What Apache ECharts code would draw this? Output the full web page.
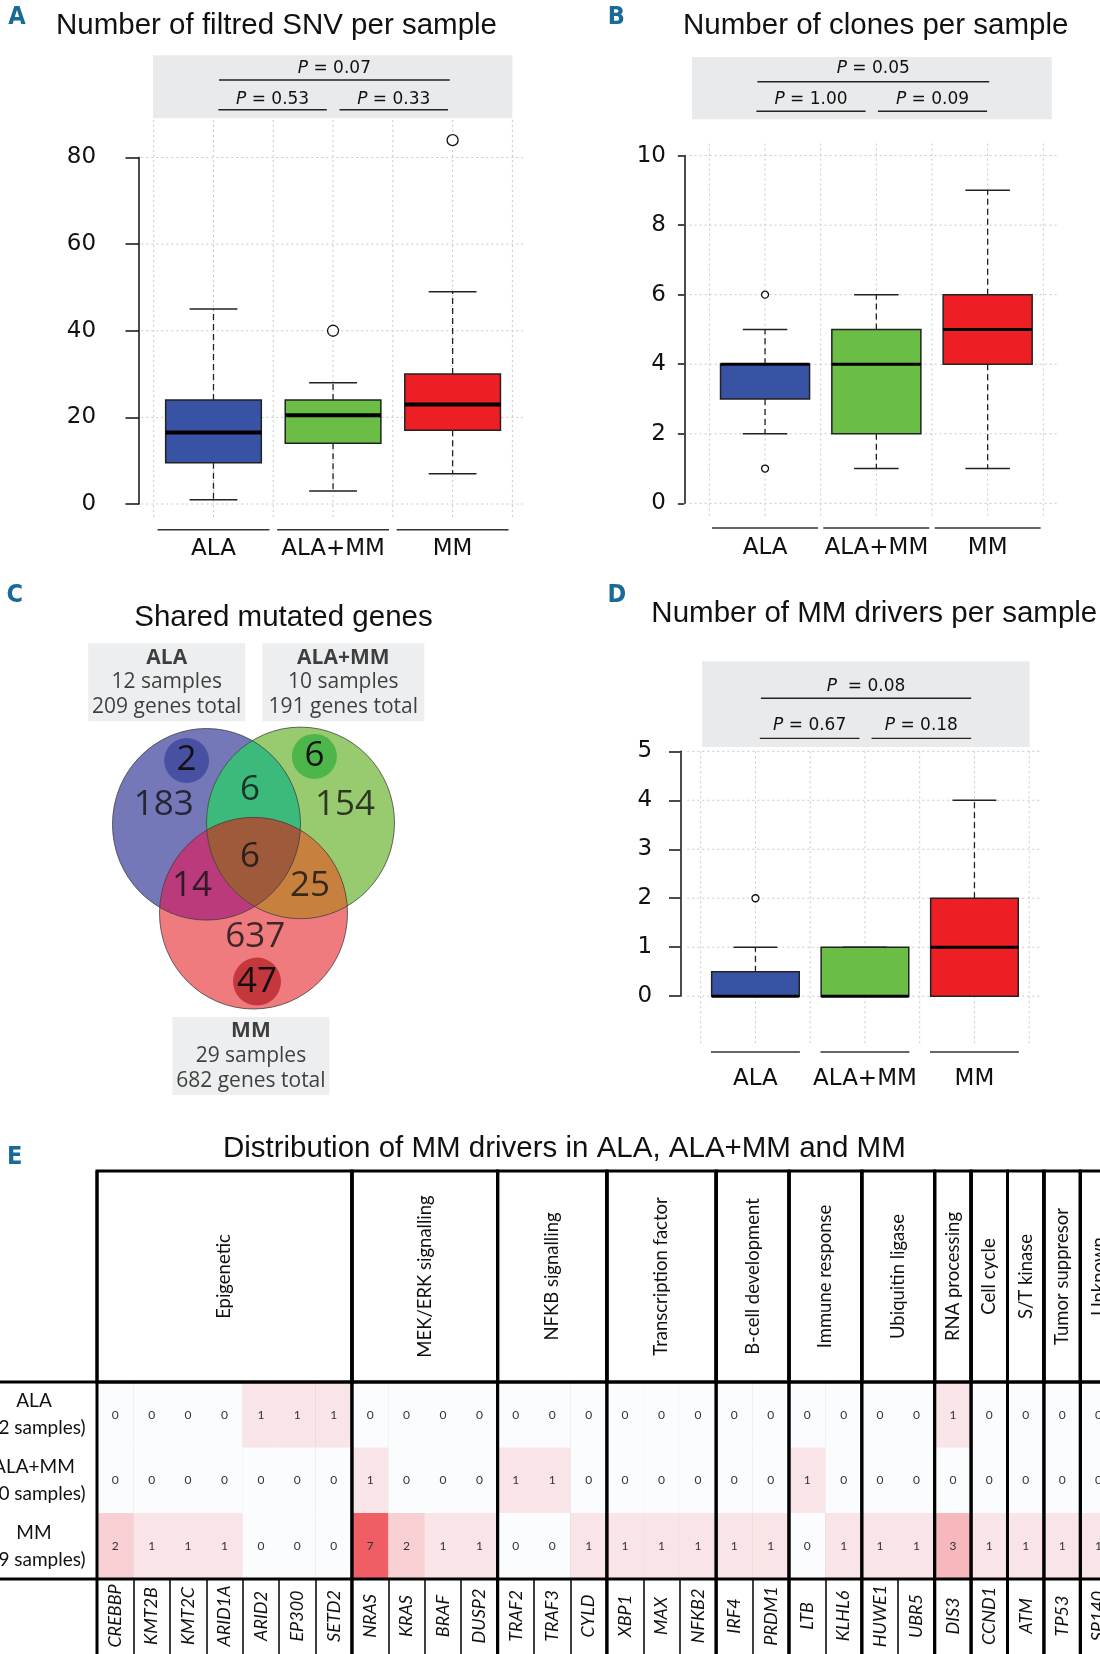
<!DOCTYPE html>
<html>
<head>
<meta charset="utf-8">
<script src="https://cdn.jsdelivr.net/npm/echarts@6/dist/echarts.min.js"></script>
<style>
  html, body { margin: 0; padding: 0; background: #fff; }
  #fig { width: 1100px; height: 1654px; }
</style>
</head>
<body>
<div id="fig"></div>
<script>
// ---------- data ----------
const groups = ['ALA', 'ALA+MM', 'MM'];
const sampleCounts = [12, 10, 29];

// boxplot stats: [lower whisker, Q1, median, Q3, upper whisker]
const snvStats = [[1, 9.5, 16.5, 24, 45], [3, 14, 20.5, 24, 28], [7, 17, 23, 30, 49]];
const snvOutliers = [[2, 40], [3, 84]];
const snvP = ['0.07', '0.53', '0.33'];   // all, ALA vs ALA+MM, ALA+MM vs MM

const cloneStats = [[2, 3, 4, 4, 5], [1, 2, 4, 5, 6], [1, 4, 5, 6, 9]];
const cloneOutliers = [[1, 6], [1, 1]];
const cloneP = ['0.05', '1.00', '0.09'];

const driverStats = [[0, 0, 0, 0.5, 1], [0, 0, 0, 1, 1], [0, 0, 1, 2, 4]];
const driverOutliers = [[1, 2]];
const driverP = ['0.08', '0.67', '0.18'];

// venn
const vennGenesTotal = [209, 191, 682];
const vennUnique = [183, 154, 637];
const vennPairs = [6, 14, 25];        // ALA&ALA+MM, ALA&MM, ALA+MM&MM
const vennAll = 6;
const vennDriverUnique = [2, 6, 47];

// heatmap table
const geneGroups = ['Epigenetic', 'MEK/ERK signalling', 'NFKB signalling', 'Transcription factor',
  'B-cell development', 'Immune response', 'Ubiquitin ligase', 'RNA processing', 'Cell cycle',
  'S/T kinase', 'Tumor suppresor', 'Unknown'];
const groupSizes = [7, 4, 3, 3, 2, 2, 2, 1, 1, 1, 1, 1];
const genes = ['CREBBP', 'KMT2B', 'KMT2C', 'ARID1A', 'ARID2', 'EP300', 'SETD2',
  'NRAS', 'KRAS', 'BRAF', 'DUSP2', 'TRAF2', 'TRAF3', 'CYLD', 'XBP1', 'MAX', 'NFKB2',
  'IRF4', 'PRDM1', 'LTB', 'KLHL6', 'HUWE1', 'UBR5', 'DIS3', 'CCND1', 'ATM', 'TP53', 'SP140'];
const alaCounts   = [0, 0, 0, 0, 1, 1, 1, 0, 0, 0, 0, 0, 0, 0, 0, 0, 0, 0, 0, 0, 0, 0, 0, 1, 0, 0, 0, 0];
const alaMmCounts = [0, 0, 0, 0, 0, 0, 0, 1, 0, 0, 0, 1, 1, 0, 0, 0, 0, 0, 0, 1, 0, 0, 0, 0, 0, 0, 0, 0];
const mmCounts    = [2, 1, 1, 1, 0, 0, 0, 7, 2, 1, 1, 0, 0, 1, 1, 1, 1, 1, 1, 0, 1, 1, 1, 3, 1, 1, 1, 1];

// ---------- layout / style ----------
const BOX_COLORS = ['#3953a4', '#6abd45', '#ed1f24'];
const DOT = {stroke: '#c8c8c8', lineWidth: 1, lineDash: [2, 3]};
const AX_FONT = '"DejaVu Sans"';
const T = {left: 97, top: 1171, headH: 211, rowH: 65.67, labH: 85, cellW: 36.42};
const VENN = {
  cx: [206.5, 300.5, 253.5], cy: [254.3, 252.9, 343.2], rx: 94, ry: 95.8,
  colors: ['#7478b8', '#98cb6f', '#ef7b7e', '#3cba7c', '#bb3a7c', '#c8803f', '#9f5a3b'],
  uniquePos: [[163.7, 234.7], [345, 234.7], [255.3, 366.7]],
  pairPos: [[250, 220.4], [191.9, 316.3], [309.9, 316.3]],
  allPos: [250, 287.4],
  drvPos: [[186.6, 190.5], [314.4, 186.4], [257, 411.6]],
  drvColors: ['#4851a1', '#4db64a', '#c4373c'],
  drvSize: [45, 45, 48],
  boxPos: [[166.7, 112.3], [343.3, 112.3], [250.9, 486]],
  boxW: [151, 156, 151]
};

const panels = [
  {grid: 0, stats: snvStats, out: snvOutliers, p: snvP, ymax: 80, step: 20, medW: 4, outSize: 11,
   offset: 14.8, tick: 13.4, margin: 42.8, sep: ' ',
   vTop: -37.5, vBot: 16, hL: 12.4, hR: 10.6, uw: 0.468, under: 25.8, lab: 45, bL: -0.7, bR: 0, bT: -102.2, bB: -39.3,
   lines: [[1.046, 2.976, -77.5, -89], [1.041, 1.948, -47.7, -57.5], [2.054, 2.961, -47.7, -57.5]]},
  {grid: 1, stats: cloneStats, out: cloneOutliers, p: cloneP, ymax: 10, step: 2, medW: 3, outSize: 7,
   offset: 25.1, tick: 6.4, margin: 18.4, sep: ' ',
   vTop: -12, vBot: 13, hL: 19.8, hR: 13.7, uw: 0.476, under: 24.7, lab: 45, bL: -17.4, bR: 8.5, bT: -98.6, bB: -36.3,
   lines: [[0.931, 3.014, -73.8, -87.2], [0.922, 1.903, -44.3, -55.6], [2.014, 2.995, -44.3, -55.6]]},
  {grid: 3, stats: driverStats, out: driverOutliers, p: driverP, ymax: 5, step: 1, medW: 3, outSize: 7,
   offset: 20.4, tick: 11.3, margin: 28.2, sep: '  ',
   vTop: 0, vBot: 50, hL: 13.4, hR: 11.3, uw: 0.406, under: 55.8, lab: 83, bL: 1.4, bR: 0.4, bT: -90.1, bB: -4.4,
   lines: [[1.05, 2.97, -53.1, -64.6], [1.04, 1.95, -12.9, -25.5], [2.06, 2.97, -12.9, -25.5]]}
];

const grids = [
  {left: 153.7, top: 157.5, width: 358.7, height: 346.5},
  {left: 709.4, top: 155.6, width: 333.9, height: 347.7},
  {left: 0, top: 570, width: 550, height: 530},
  {left: 700.7, top: 751.3, width: 328.5, height: 244.9},
  {left: T.left, top: T.top, width: T.cellW * genes.length, height: T.headH},
  {left: T.left, top: T.top + T.headH, width: T.cellW * genes.length, height: T.rowH * 3}
].map(g => Object.assign({containLabel: false, outerBoundsMode: 'none'}, g));

// ---------- render helpers ----------
function frameRender(cfg) {
  return function (params, api) {
    const X = v => api.coord([v, 0])[0];
    const Y = v => api.coord([1, v])[1];
    const yTop = Y(cfg.ymax), y0 = Y(0);
    const xL = X(0.5), xR = X(3.5);
    const ch = [];
    for (let k = 0; k <= 6; k++) {
      const x = X(0.5 + k * 0.5);
      ch.push({type: 'line', shape: {x1: x, y1: yTop + cfg.vTop, x2: x, y2: y0 + cfg.vBot}, style: DOT});
    }
    for (let t = 0; t <= cfg.ymax; t += cfg.step) {
      const y = Y(t);
      ch.push({type: 'line', shape: {x1: xL - cfg.hL, y1: y, x2: xR + cfg.hR, y2: y}, style: DOT});
    }
    groups.forEach((g, i) => {
      ch.push({type: 'line', shape: {x1: X(i + 1 - cfg.uw), y1: y0 + cfg.under, x2: X(i + 1 + cfg.uw), y2: y0 + cfg.under},
        style: {stroke: '#333', lineWidth: 1.6}});
      ch.push({type: 'text', x: X(i + 1), y: y0 + cfg.lab,
        style: {text: g, font: '23px ' + AX_FONT, fill: '#111', align: 'center', verticalAlign: 'middle'}});
    });
    ch.push({type: 'rect', shape: {x: xL + cfg.bL, y: yTop + cfg.bT, width: (xR + cfg.bR) - (xL + cfg.bL), height: cfg.bB - cfg.bT},
      style: {fill: '#e9eaeb'}});
    cfg.lines.forEach((ln, j) => {
      const [a, b, ly, ty] = ln;
      const sep = j === 0 ? cfg.sep : ' ';
      ch.push({type: 'line', shape: {x1: X(a), y1: yTop + ly, x2: X(b), y2: yTop + ly}, style: {stroke: '#222', lineWidth: 1.4}});
      ch.push({type: 'text', x: (X(a) + X(b)) / 2, y: yTop + ty,
        style: {text: '{i|P}' + sep + '= ' + cfg.p[j], font: '17px ' + AX_FONT, fill: '#111', align: 'center', verticalAlign: 'middle',
          rich: {i: {fontStyle: 'italic', fontSize: 17, fontFamily: 'DejaVu Sans', fill: '#111'}}}});
    });
    return {type: 'group', children: ch};
  };
}

function boxRender(cfg) {
  return function (params, api) {
    const x = api.value(0);
    const lo = api.value(1), q1 = api.value(2), med = api.value(3), q3 = api.value(4), hi = api.value(5);
    const cw = api.size([1, 0])[0];
    const cx = api.coord([x, 0])[0];
    const Y = v => api.coord([x, v])[1];
    const bw = cw * 0.4, capw = cw * 0.2;
    const dash = {stroke: '#222', lineWidth: 1.3, lineDash: [6, 4]};
    const solid = {stroke: '#222', lineWidth: 1.5};
    return {type: 'group', children: [
      {type: 'line', shape: {x1: cx, y1: Y(q3), x2: cx, y2: Y(hi)}, style: dash},
      {type: 'line', shape: {x1: cx, y1: Y(q1), x2: cx, y2: Y(lo)}, style: dash},
      {type: 'line', shape: {x1: cx - capw, y1: Y(hi), x2: cx + capw, y2: Y(hi)}, style: solid},
      {type: 'line', shape: {x1: cx - capw, y1: Y(lo), x2: cx + capw, y2: Y(lo)}, style: solid},
      {type: 'rect', shape: {x: cx - bw, y: Y(q3), width: 2 * bw, height: Y(q1) - Y(q3)},
        style: {fill: BOX_COLORS[params.dataIndex], stroke: '#222', lineWidth: 1.5}},
      {type: 'line', shape: {x1: cx - bw, y1: Y(med), x2: cx + bw, y2: Y(med)}, style: {stroke: '#000', lineWidth: cfg.medW}}
    ]};
  };
}

// venn regions: intersections of ellipses (convex), traced numerically
const vennRegions = [[0], [1], [2], [0, 1], [0, 2], [1, 2], [0, 1, 2]];
function insideEll(s, x, y) {
  const dx = (x - VENN.cx[s]) / VENN.rx, dy = (y - VENN.cy[s]) / VENN.ry;
  return dx * dx + dy * dy <= 1.0005;
}
function vennRender(params, api) {
  const sets = vennRegions[params.dataIndex];
  let pts = [];
  sets.forEach(s => {
    for (let k = 0; k < 720; k++) {
      const t = k * Math.PI / 360;
      const x = VENN.cx[s] + VENN.rx * Math.cos(t), y = VENN.cy[s] + VENN.ry * Math.sin(t);
      if (sets.every(o => o === s || insideEll(o, x, y))) pts.push(api.coord([x, y]));
    }
  });
  if (sets.length > 1) {
    const mx = pts.reduce((a, p) => a + p[0], 0) / pts.length, my = pts.reduce((a, p) => a + p[1], 0) / pts.length;
    pts.sort((a, b) => Math.atan2(a[1] - my, a[0] - mx) - Math.atan2(b[1] - my, b[0] - mx));
  }
  return {type: 'polygon', shape: {points: pts}, style: {fill: VENN.colors[params.dataIndex]}};
}
function vennOutline(params, api) {
  const i = params.dataIndex;
  const c = api.coord([VENN.cx[i], VENN.cy[i]]);
  const sz = api.size([VENN.rx, VENN.ry]);
  return {type: 'ellipse', shape: {cx: c[0], cy: c[1], rx: sz[0], ry: sz[1]},
    style: {fill: 'none', stroke: 'rgba(60,60,60,0.75)', lineWidth: 1}};
}

// table header (gene groups)
const groupSpans = [];
groupSizes.reduce((s, n) => { groupSpans.push([s, s + n]); return s + n; }, 0);
function headRender(params, api) {
  const s = api.value(0), e = api.value(1);
  const p0 = api.coord([s, 1]), p1 = api.coord([e, 0]);
  const bottom = p1[1] + 3 * T.rowH + T.labH;
  const thick = {stroke: '#000', lineWidth: 3};
  return {type: 'group', children: [
    {type: 'rect', shape: {x: p0[0], y: p0[1], width: p1[0] - p0[0], height: p1[1] - p0[1]}, style: {fill: 'none', stroke: '#000', lineWidth: 3}},
    {type: 'line', shape: {x1: p0[0], y1: p0[1], x2: p0[0], y2: bottom}, style: thick},
    {type: 'line', shape: {x1: p1[0], y1: p0[1], x2: p1[0], y2: bottom}, style: thick},
    {type: 'text', x: (p0[0] + p1[0]) / 2, y: (p0[1] + p1[1]) / 2, rotation: Math.PI / 2,
      style: {text: geneGroups[params.dataIndex], font: '18.5px Lato', fill: '#111', align: 'center', verticalAlign: 'middle'}}
  ]};
}

// ---------- axes ----------
const xAxes = [], yAxes = [];
panels.forEach(cfg => {
  xAxes[cfg.grid] = {gridIndex: cfg.grid, type: 'value', min: 0.5, max: 3.5, show: false};
  yAxes[cfg.grid] = {gridIndex: cfg.grid, type: 'value', min: 0, max: cfg.ymax, interval: cfg.step, offset: cfg.offset,
    axisLine: {show: true, onZero: false, lineStyle: {color: '#111', width: 1.5}},
    axisTick: {show: true, length: cfg.tick, lineStyle: {color: '#111', width: 1.5}},
    axisLabel: {margin: cfg.margin, fontSize: 23, fontFamily: 'DejaVu Sans', color: '#111'},
    splitLine: {show: false}};
});
xAxes[2] = {gridIndex: 2, type: 'value', min: 0, max: 550, show: false};
yAxes[2] = {gridIndex: 2, type: 'value', min: 0, max: 530, inverse: true, show: false};
xAxes[4] = {gridIndex: 4, type: 'value', min: 0, max: genes.length, show: false};
yAxes[4] = {gridIndex: 4, type: 'value', min: 0, max: 1, show: false};
xAxes[5] = {gridIndex: 5, type: 'category', data: genes, position: 'bottom',
  axisLine: {show: false},
  axisTick: {show: true, interval: 0, length: T.labH, lineStyle: {color: '#000', width: 1.5}},
  axisLabel: {interval: 0, rotate: 90, align: 'center', verticalAlign: 'middle', margin: 37,
    fontStyle: 'italic', fontFamily: 'Lato', fontSize: 18, color: '#111'},
  splitLine: {show: true, interval: 0, lineStyle: {color: '#000', width: 1.5}}};
yAxes[5] = {gridIndex: 5, type: 'category', data: groups, inverse: true,
  axisLine: {show: false}, axisTick: {show: false}, splitLine: {show: false},
  axisLabel: {formatter: (v, i) => v + '\n(' + sampleCounts[i] + ' samples)', align: 'center', margin: 63,
    fontFamily: 'Lato', fontSize: 19, lineHeight: 27, color: '#111'}};

// ---------- series ----------
const series = [];
panels.forEach(cfg => {
  series.push({type: 'custom', xAxisIndex: cfg.grid, yAxisIndex: cfg.grid, silent: true, z: 1,
    data: [[2, 0]], renderItem: frameRender(cfg)});
  series.push({type: 'custom', xAxisIndex: cfg.grid, yAxisIndex: cfg.grid, silent: true, z: 3,
    data: cfg.stats.map((s, i) => [i + 1].concat(s)), renderItem: boxRender(cfg)});
  series.push({type: 'scatter', xAxisIndex: cfg.grid, yAxisIndex: cfg.grid, silent: true, z: 4, clip: false,
    symbol: 'circle', symbolSize: cfg.outSize, data: cfg.out,
    itemStyle: {color: '#fff', borderColor: '#111', borderWidth: 1.3, opacity: 1}});
});

// venn
series.push({type: 'custom', xAxisIndex: 2, yAxisIndex: 2, silent: true, z: 1,
  data: vennRegions.map((r, i) => [i, 0]), renderItem: vennRender});
series.push({type: 'custom', xAxisIndex: 2, yAxisIndex: 2, silent: true, z: 2,
  data: groups.map((g, i) => [i, 0]), renderItem: vennOutline});
const vennNumFont = {fontFamily: 'Open Sans', fontSize: 35, color: '#111'};
series.push({type: 'scatter', xAxisIndex: 2, yAxisIndex: 2, silent: true, z: 3, clip: false,
  data: vennDriverUnique.map((v, i) => ({value: VENN.drvPos[i].concat(v), symbolSize: VENN.drvSize[i],
    itemStyle: {color: VENN.drvColors[i], opacity: 1}})),
  label: Object.assign({show: true, position: 'inside', formatter: p => p.value[2]}, vennNumFont)});
const vennNums = vennUnique.map((v, i) => VENN.uniquePos[i].concat(v))
  .concat(vennPairs.map((v, i) => VENN.pairPos[i].concat(v)))
  .concat([VENN.allPos.concat(vennAll)]);
series.push({type: 'scatter', xAxisIndex: 2, yAxisIndex: 2, silent: true, z: 4, clip: false,
  symbolSize: 0, data: vennNums,
  label: Object.assign({show: true, position: 'inside', formatter: p => p.value[2]}, vennNumFont)});
series.push({type: 'scatter', xAxisIndex: 2, yAxisIndex: 2, silent: true, z: 4, clip: false,
  symbolSize: 0,
  data: groups.map((g, i) => ({value: VENN.boxPos[i], name: g,
    label: {width: VENN.boxW[i],
      formatter: '{b|' + g + '}\n' + sampleCounts[i] + ' samples\n' + vennGenesTotal[i] + ' genes total'}})),
  label: {show: true, position: 'inside', align: 'center', fontFamily: 'Open Sans', fontSize: 21,
    lineHeight: 24.7, color: '#111', backgroundColor: '#e9eaeb', padding: [2, 3],
    rich: {b: {fontWeight: 'bold', fontFamily: 'Open Sans', fontSize: 21, lineHeight: 24.7, color: '#111'}}}});

// table
series.push({type: 'custom', xAxisIndex: 4, yAxisIndex: 4, silent: true, z: 10,
  data: groupSpans, renderItem: headRender});
const heatData = [];
[alaCounts, alaMmCounts, mmCounts].forEach((row, r) => row.forEach((v, g) => heatData.push([g, r, v])));
const heatIndex = series.length;
series.push({type: 'heatmap', xAxisIndex: 5, yAxisIndex: 5, silent: true, z: 2, data: heatData,
  label: {show: true, formatter: p => p.value[2], fontFamily: 'Lato', fontSize: 12, color: '#333'}});

// ---------- titles & frame lines ----------
const letters = [['A', 17, 17.5], ['B', 616.4, 17.5], ['C', 14.8, 595.5], ['D', 616.9, 595.5], ['E', 14.7, 1157.4]];
const titles = [['Number of filtred SNV per sample', 276.5, 25.5], ['Number of clones per sample', 875.7, 25.5],
  ['Shared mutated genes', 283.5, 617.6], ['Number of MM drivers per sample', 874.3, 614.2],
  ['Distribution of MM drivers in ALA, ALA+MM and MM', 564.3, 1148.9]];
const graphic = [];
letters.forEach(([t, x, y]) => graphic.push({type: 'text', x, y, z: 100,
  style: {text: t, font: 'bold condensed 25px "Liberation Sans Narrow", "DejaVu Sans"', fill: '#1a6a98', align: 'center', verticalAlign: 'middle'}}));
titles.forEach(([t, x, y]) => graphic.push({type: 'text', x, y, z: 100,
  style: {text: t, font: '29.5px "Liberation Sans"', fill: '#111', align: 'center', verticalAlign: 'middle'}}));
[T.top + T.headH, T.top + T.headH + 3 * T.rowH].forEach(y => graphic.push({type: 'line', z: 100,
  shape: {x1: 0, y1: y, x2: 1100, y2: y}, style: {stroke: '#000', lineWidth: 3}}));

const chart = echarts.init(document.getElementById('fig'));
chart.setOption({
  animation: false,
  backgroundColor: '#fff',
  grid: grids,
  xAxis: xAxes,
  yAxis: yAxes,
  visualMap: [{type: 'continuous', show: false, seriesIndex: heatIndex, dimension: 2, min: 0, max: 7,
    inRange: {color: ['#fbfcfd', '#ef5e65']}}],
  series: series,
  graphic: graphic
});
</script>
</body>
</html>
